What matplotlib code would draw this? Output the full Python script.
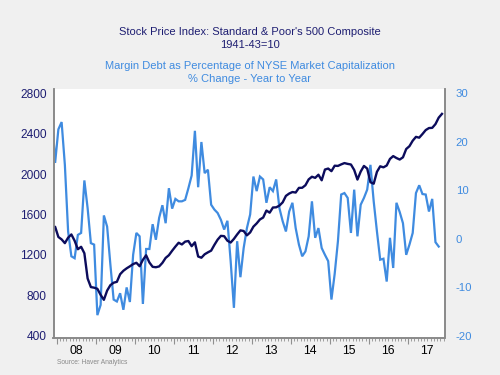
import matplotlib
matplotlib.use("Agg")
import matplotlib.pyplot as plt
from matplotlib.ticker import FixedLocator, MultipleLocator, NullFormatter
import numpy as np
import pandas as pd

# S&P 500 monthly average, Nov 2007 .. Nov 2017
sp500 = [1463, 1479,
         1378, 1354, 1317, 1371, 1403, 1341, 1257, 1281, 1217, 968, 883, 877,
         866, 806, 757, 848, 902, 926, 935, 1010, 1044, 1068, 1088, 1110,
         1123, 1089, 1152, 1197, 1126, 1083, 1079, 1087, 1122, 1171, 1198, 1242,
         1283, 1321, 1304, 1332, 1338, 1287, 1325, 1185, 1173, 1207, 1226, 1243,
         1300, 1352, 1389, 1386, 1341, 1323, 1359, 1403, 1443, 1437, 1394, 1423,
         1480, 1512, 1551, 1570, 1639, 1618, 1669, 1671, 1688, 1720, 1784, 1807,
         1822, 1817, 1863, 1864, 1889, 1947, 1973, 1962, 1993, 1938, 2044, 2054,
         2028, 2082, 2080, 2095, 2108, 2100, 2094, 2040, 1945, 2024, 2080, 2054,
         1919, 1904, 2022, 2076, 2066, 2084, 2149, 2177, 2158, 2143, 2165, 2247,
         2275, 2329, 2367, 2359, 2395, 2434, 2454, 2456, 2493, 2557, 2594]

# Margin debt / NYSE market cap, % change yoy, Nov 2007 .. Oct 2017
margin = [25.8, 15.6,
          22.5, 24.0, 15.2, 1.5, -3.6, -4.0, 0.8, 1.2, 12.0, 6.3, -0.9, -1.2,
          -15.7, -13.6, 4.8, 2.5, -5.3, -12.5, -12.9, -11.2, -14.6, -10.0, -13.0, -3.3,
          1.2, 0.5, -13.4, -2.1, -2.1, 3.0, -0.2, 4.3, 6.9, 3.2, 10.4, 6.2,
          8.2, 7.7, 7.7, 8.0, 10.4, 13.0, 22.2, 10.6, 19.9, 13.5, 14.2, 7.0,
          6.0, 5.3, 3.9, 1.9, 3.7, -4.6, -14.2, -0.5, -7.9, -1.9, 2.2, 5.0,
          12.8, 9.8, 12.8, 12.2, 7.4, 10.6, 9.8, 12.2, 6.3, 3.6, 1.5, 5.6,
          7.4, 2.2, -1.2, -3.6, -2.6, 0.5, 7.7, 0.2, 2.2, -1.9, -3.3, -4.6,
          -12.5, -7.2, -0.5, 9.1, 9.4, 8.4, 1.2, 10.1, 0.5, 7.0, 8.4, 10.1,
          15.2, 7.7, 1.5, -4.3, -4.1, -8.8, 0.2, -6.0, 7.4, 5.5, 3.2, -3.3,
          -1.2, 1.2, 9.4, 11.0, 9.2, 9.1, 5.6, 8.2, -0.7, -1.6]

years = list(range(2008, 2018))
year_labels = ["%02d" % (y % 100) for y in years]
left_ticks = [400, 800, 1200, 1600, 2000, 2400, 2800]
right_ticks = [-20, -10, 0, 10, 20, 30]

NAVY = "#0c0c5c"
NAVY_TXT = "#1e1e72"
LBLUE = "#3f8be0"
BG = "#f0f0f0"


def decimal_months(start, n):
    d = pd.date_range(start, periods=n, freq="MS")
    return d.year + (d.month - 0.5) / 12.0


x_sp = decimal_months("2007-11-01", len(sp500))
x_mg = decimal_months("2007-11-01", len(margin))

fig = plt.figure(figsize=(5, 3.75), dpi=100, facecolor=BG)
plt.rcParams["font.family"] = ["Liberation Sans", "DejaVu Sans"]

ax2 = fig.add_axes([0.107, 0.0987, 0.782, 0.664])
ax = ax2.twinx()
# left axis (S&P) is the twin so its line is drawn on top; swap sides
ax.yaxis.set_label_position("left")
ax.yaxis.tick_left()
ax2.yaxis.tick_right()

ax2.set_facecolor("white")
ax2.plot(x_mg, margin, color=LBLUE, lw=1.6, solid_joinstyle="miter")
ax.plot(x_sp, sp500, color=NAVY, lw=1.7)

ax.set_xlim(2007.917, 2017.94)
ax.set_ylim(380, 2840)
ax2.set_ylim(-20.4, 30.8)

ax.set_yticks(left_ticks)
ax.set_yticklabels([str(v) for v in left_ticks], color=NAVY_TXT, fontsize=8.6)
ax2.set_yticks(right_ticks)
ax2.set_yticklabels([str(v) for v in right_ticks], color=LBLUE, fontsize=8.2)
ax.tick_params(axis="y", length=0, pad=5)
ax2.tick_params(axis="y", length=0, pad=8)

# x axis: year ticks, monthly minor ticks, labels in middle of year
ax2.xaxis.set_major_locator(FixedLocator(years))
ax2.xaxis.set_major_formatter(NullFormatter())
ax2.xaxis.set_minor_locator(MultipleLocator(1 / 12))
ax2.tick_params(axis="x", which="major", length=4, width=0.8, color="#909090")
ax2.tick_params(axis="x", which="minor", length=2, width=0.6, color="#909090")
for y, lab in zip(years, year_labels):
    ax2.text(y + 0.5, -0.03, lab, transform=ax2.get_xaxis_transform(),
             ha="center", va="top", fontsize=8.8, color="black")

for a in (ax, ax2):
    a.spines["top"].set_visible(False)
    for s in ("left", "right", "bottom"):
        a.spines[s].set_color("#8a8a8a")
        a.spines[s].set_linewidth(1.2)

fig.text(0.5, 0.915, "Stock Price Index: Standard & Poor's 500 Composite",
         ha="center", va="center", fontsize=8, color=NAVY_TXT)
fig.text(0.5, 0.88, "1941-43=10", ha="center", va="center", fontsize=8, color=NAVY_TXT)
fig.text(0.5, 0.824, "Margin Debt as Percentage of NYSE Market Capitalization",
         ha="center", va="center", fontsize=8, color=LBLUE)
fig.text(0.5, 0.789, "% Change - Year to Year", ha="center", va="center",
         fontsize=8, color=LBLUE)
fig.text(0.114, 0.033, "Source: Haver Analytics", fontsize=4.8, color="#8a8a8a",
         va="center")

fig.savefig("out.png", dpi=100, facecolor=BG)
